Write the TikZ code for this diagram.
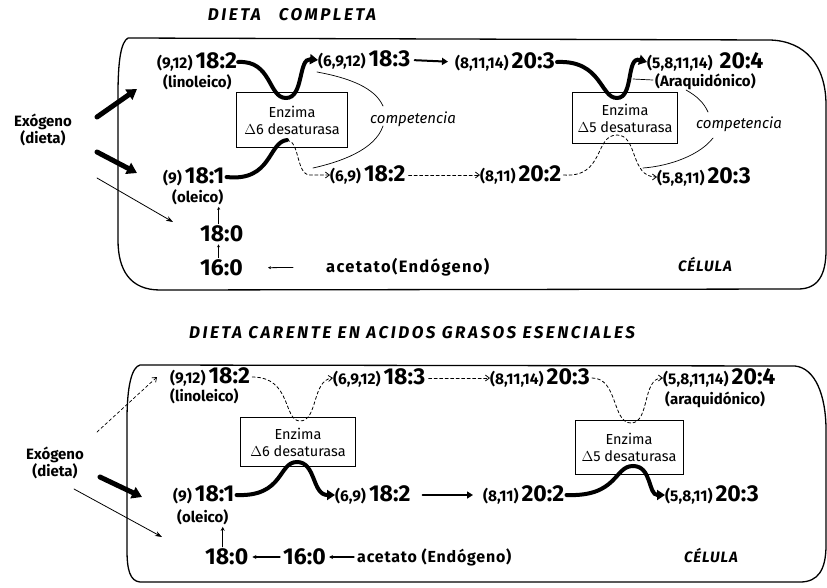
\documentclass[tikz,border=0pt]{standalone}
\usepackage{fontspec}
\setmainfont{Fira Sans}
\usetikzlibrary{arrows.meta,positioning}

\newcommand{\ag}[2]{{\fontsize{15.5}{15}\selectfont #1}\hspace{3pt}{\fontsize{23}{23}\selectfont #2}}

\tikzstyle{acide}=[inner sep=0pt, anchor=west, font=\bfseries]
\tikzstyle{nom}=[inner sep=0pt, anchor=west, font=\bfseries\fontsize{15}{15}\selectfont]
\tikzstyle{enzyme}=[draw, rectangle, line width=1pt, fill=white, align=center, inner sep=0pt, font=\fontsize{14.5}{17}\selectfont]
\tikzstyle{titre}=[font=\bfseries\itshape\fontsize{17}{17}\selectfont\addfontfeature{LetterSpace=15}]
\tikzstyle{cellule}=[line width=1.3pt]
\tikzstyle{voie}=[line width=4pt, -{Triangle[length=8pt,width=10pt]}]
\tikzstyle{bloquee}=[line width=0.8pt, dash pattern=on 3pt off 2.5pt, -{Straight Barb[length=4pt,width=6pt]}]
\tikzstyle{apport}=[line width=5pt, -{Triangle[length=10pt,width=12pt]}]
\tikzstyle{fine}=[line width=0.8pt, -{Stealth[length=7pt,width=5pt]}]
\tikzstyle{petite}=[line width=0.8pt, -{Stealth[length=3pt,width=3pt]}]
\tikzstyle{competence}=[line width=0.7pt]

\begin{document}
\begin{tikzpicture}[x=1pt, y=-1pt, line cap=round,
        comment/.style={font=\itshape\fontsize{15}{15}\selectfont},
        exo/.style={align=center, font=\bfseries\fontsize{15}{17}\selectfont}
    ]
    \useasboundingbox (0,0) rectangle (827,587);

    % ---------- dieta completa ----------
    \node[titre] (htitre) at (292,15) {DIETA\hspace{18pt}COMPLETA};
    \draw[cellule] (128,38) -- (770,40) .. controls (805,41) and (826,65) .. (826,105)
        -- (826,250) .. controls (826,275) and (818,289) .. (798,289) -- (160,290)
        .. controls (130,290) and (118,270) .. (118,240) -- (118,95)
        .. controls (118,60) and (121,42) .. (128,38);

    \node[exo] (hexo) at (43,130) {Exógeno\\(dieta)};

    \node[acide] (h182) at (157,62) {\ag{(9,12)}{18:2}};
    \node[nom] (hlin) at (163,82) {(linoleico)};
    \node[acide] (h183) at (318,60) {\ag{(6,9,12)}{18:3}};
    \node[acide] (h203) at (455,62) {\ag{(8,11,14)}{20:3}};
    \node[acide] (h204) at (647,62) {\ag{(5,8,11,14)}{\hspace{4pt}20:4}};
    \node[nom] (hara) at (655,82) {(Araquidónico)};

    \node[acide] (h181) at (163,177) {\ag{(9)}{18:1}};
    \node[nom] (hole) at (172,197) {(oleico)};
    \node[acide] (h180) at (200,234) {{\fontsize{23}{23}\selectfont 18:0}};
    \node[acide] (h160) at (200,268) {{\fontsize{23}{23}\selectfont 16:0}};
    \node[nom, font=\bfseries\fontsize{16.5}{16}\selectfont\addfontfeature{LetterSpace=8}] (hace) at (326,267) {acetato(Endógeno)};
    \node[titre, font=\bfseries\itshape\fontsize{15}{15}\selectfont\addfontfeature{LetterSpace=6}] (hcel) at (705,264) {CÉLULA};

    \node[acide] (h182b) at (330,175) {\ag{(6,9)}{18:2}};
    \node[acide] (h202) at (480,175) {\ag{(8,11)}{20:2}};
    \node[acide] (h203b) at (657,177) {\ag{(5,8,11)}{20:3}};

    \node[enzyme, minimum width=111pt, minimum height=55pt] (h6) at (292,120) {Enzima\\$\Delta$6 desaturasa};
    \node[enzyme, minimum width=105pt, minimum height=51pt] (h5) at (625,118) {Enzima\\$\Delta$5 desaturasa};

    \node[comment] (hcomp6) at (413,119) {competencia};
    \node[comment] (hcomp5) at (739,124) {competencia};
    \draw[competence] (317,72) .. controls (350,78) and (375,88) .. (383,106);
    \draw[competence] (383,126) .. controls (375,150) and (340,162) .. (313,168);
    \draw[competence] (633,79) -- (653,80);
    \draw[competence] (686,90) .. controls (697,96) and (704,103) .. (708,112);
    \draw[competence] (713,138) .. controls (700,155) and (670,166) .. (643,168);

    % apports
    \coordinate (hs1) at (97,117);  \coordinate (ht1) at (137,89);
    \coordinate (hs2) at (97,152);  \coordinate (ht2) at (137,173);
    \coordinate (hs3) at (97,178);  \coordinate (ht3) at (173,222);
    \draw[apport] (hs1) -- (ht1);
    \draw[apport] (hs2) -- (ht2);
    \draw[fine] (hs3) -- (ht3);

    % voies
    \draw[voie] ([xshift=1pt]h182.east) .. controls (272,60) and (268,98) .. (286,98)
        .. controls (304,98) and (298,58) .. (h183.west);
    \draw[line width=2pt, -{Triangle[length=6pt,width=7pt]}, shorten <=4pt, shorten >=7pt] (h183.east) -- (h203.west);
    \draw[voie] ([xshift=2pt]h203.east) .. controls (602,60) and (600,98) .. (617,98)
        .. controls (634,98) and (626,56) .. (h204.west);
    \coordinate (h6b) at (287,140);
    \draw[line width=4pt] ([xshift=2pt]h181.east) .. controls (272,182) and (268,142) .. (h6b);
    \draw[bloquee] (h6b) .. controls (300,141) and (296,175) .. (310,175) -- (h182b.west);
    \draw[bloquee, shorten <=3pt] (h182b.east) -- (h202.west);
    \draw[bloquee] ([xshift=2pt]h202.east) .. controls (605,178) and (594,135) .. (617,135)
        .. controls (638,135) and (630,177) .. (h203b.west);
    \draw[petite, shorten <=2pt, shorten >=2pt] ([xshift=-3pt]h180.north) -- ([xshift=-3pt]h180.north |- hole.south);
    \draw[petite, shorten <=2pt, shorten >=2pt] ([xshift=-3pt]h160.north) -- ([xshift=-3pt]h160.north |- h180.south);
    \draw[petite, shorten <=33pt, shorten >=25pt] (hace.west) -- (h160.east);

    % ---------- dieta carente ----------
    \node[titre] (btitre) at (412,333) {DIETA CARENTE EN ACIDOS GRASOS ESENCIALES};
    \draw[cellule] (140,365) -- (795,366) .. controls (815,368) and (826,395) .. (826,430)
        -- (826,545) .. controls (826,570) and (818,582) .. (800,582) -- (140,582)
        .. controls (130,581) and (127,570) .. (127,550) -- (127,420)
        .. controls (127,385) and (132,367) .. (140,365);

    \node[exo] (bexo) at (55,463) {Exógeno\\(dieta)};

    \node[acide] (b182) at (170,377) {\ag{(9,12)}{18:2}};
    \node[nom] (blin) at (170,396) {(linoleico)};
    \node[acide] (b183) at (333,378) {\ag{(6,9,12)}{18:3}};
    \node[acide] (b203) at (490,378) {\ag{(8,11,14)}{20:3}};
    \node[acide] (b204) at (663,378) {\ag{(5,8,11,14)}{20:4}};
    \node[nom] (bara) at (665,400) {(araquidónico)};

    \node[acide] (b181) at (173,495) {\ag{(9)}{18:1}};
    \node[nom] (bole) at (177,517) {(oleico)};
    \node[acide] (b180) at (205,557) {{\fontsize{23}{23}\selectfont 18:0}};
    \node[acide] (b160) at (283,557) {{\fontsize{23}{23}\selectfont 16:0}};
    \node[nom, font=\bfseries\fontsize{16}{16}\selectfont\addfontfeature{LetterSpace=5}] (bace) at (357,557) {acetato (Endógeno)};
    \node[titre, font=\bfseries\itshape\fontsize{15}{15}\selectfont\addfontfeature{LetterSpace=6}] (bcel) at (711,555) {CÉLULA};

    \node[acide] (b182b) at (335,495) {\ag{(6,9)}{18:2}};
    \node[acide] (b202) at (483,495) {\ag{(8,11)}{20:2}};
    \node[acide] (b203b) at (665,495) {\ag{(5,8,11)}{20:3}};

    \node[enzyme, minimum width=115pt, minimum height=49pt] (b6) at (298,442) {Enzima\\$\Delta$6 desaturasa};
    \node[enzyme, minimum width=108pt, minimum height=54pt] (b5) at (629,447) {Enzima\\$\Delta$5 desaturasa};

    % apports
    \coordinate (bs1) at (97,432);  \coordinate (bt1) at (157,377);
    \coordinate (bs2) at (100,477); \coordinate (bt2) at (142,497);
    \coordinate (bs3) at (74,489);  \coordinate (bt3) at (162,537);
    \draw[bloquee, line width=0.7pt] (bs1) -- (bt1);
    \draw[apport] (bs2) -- (bt2);
    \draw[fine] (bs3) -- (bt3);

    % voies
    \draw[bloquee] ([xshift=2pt]b182.east) .. controls (292,377) and (283,421) .. (300,421)
        .. controls (318,421) and (312,380) .. (b183.west);
    \draw[bloquee, shorten <=3pt] (b183.east) -- (b203.west);
    \draw[bloquee] ([xshift=2pt]b203.east) .. controls (618,378) and (612,423) .. (631,423)
        .. controls (650,423) and (642,378) .. (b204.west);
    \draw[voie] ([xshift=2pt]b181.east) .. controls (284,497) and (278,462) .. (297,462)
        .. controls (316,462) and (312,495) .. (b182b.west);
    \draw[line width=2pt, -{Triangle[length=6pt,width=7pt]}, shorten <=12pt, shorten >=10pt] (b182b.east) -- (b202.west);
    \draw[voie] ([xshift=2pt]b202.east) .. controls (618,497) and (614,466) .. (633,466)
        .. controls (652,466) and (648,495) .. (b203b.west);
    \draw[line width=1.2pt, -{Stealth[length=4pt,width=4pt]}, shorten <=2pt, shorten >=2pt] ([xshift=-4pt]b180.north) -- ([xshift=-4pt]b180.north |- bole.south);
    \draw[line width=1.2pt, -{Stealth[length=4pt,width=4pt]}, shorten <=3pt, shorten >=4pt] (b160.west) -- (b180.east);
    \draw[line width=1.2pt, -{Stealth[length=4pt,width=4pt]}, shorten <=3pt, shorten >=3pt] (bace.west) -- (b160.east);

\end{tikzpicture}
\end{document}
